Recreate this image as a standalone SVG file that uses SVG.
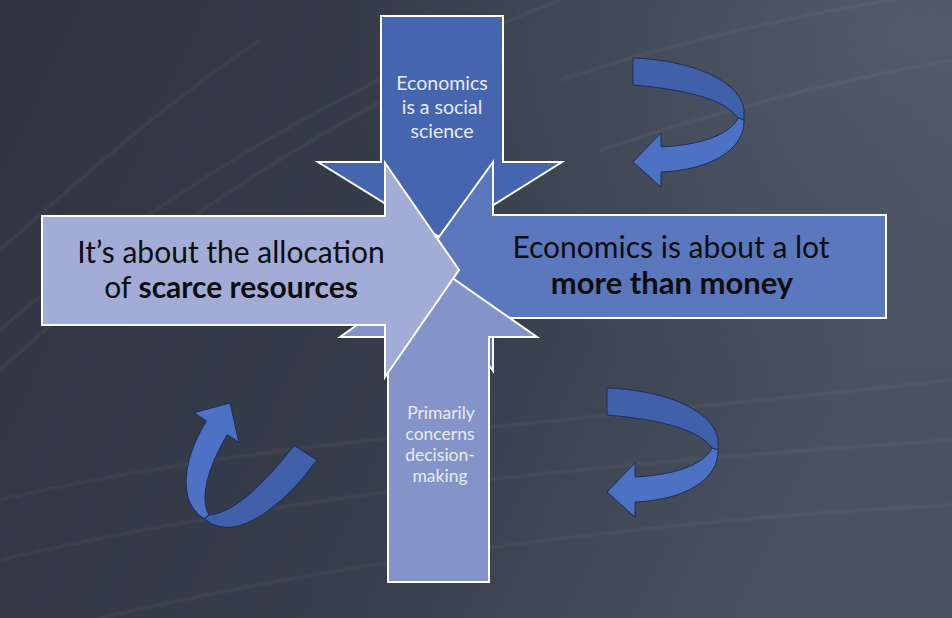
<svg xmlns="http://www.w3.org/2000/svg" width="952" height="618" viewBox="0 0 952 618">
<defs>
<linearGradient id="bg" x1="0" y1="0" x2="1" y2="0.3">
<stop offset="0" stop-color="#2f3541"/>
<stop offset="0.6" stop-color="#373e4b"/>
<stop offset="1" stop-color="#4a515f"/>
</linearGradient>
<radialGradient id="glow" cx="0.95" cy="0.05" r="0.6">
<stop offset="0" stop-color="#566070" stop-opacity="0.7"/>
<stop offset="1" stop-color="#566070" stop-opacity="0"/>
</radialGradient>
<filter id="soft"><feGaussianBlur stdDeviation="1.2"/></filter>
<g id="curl">
<path class="back" d="M633,58 C690,60 740,80 744,110 L744,120 L738,118 C725,100 690,90 633,85 Z"/>
<path class="front" d="M738,118 C730,135 700,145 661,147 L661,133 L633,162 L661,187 L661,172 C710,170 745,150 744,120 Z"/>
</g>
</defs>
<style>
.arrow{stroke:#ffffff;stroke-width:2;stroke-linejoin:miter}
.back{fill:#4160aa;stroke:#1e2d5a;stroke-width:1}
.front{fill:#4d72c4;stroke:#1e2d5a;stroke-width:1}
.wt{font-family:Lato,"Open Sans",sans-serif;fill:#e8ebf3;text-anchor:middle}
.bk{font-family:Lato,"Open Sans",sans-serif;fill:#0d0d0d;text-anchor:middle}
.streak{fill:none;stroke:#ffffff;stroke-opacity:0.07;stroke-width:2}
</style>
<rect width="952" height="618" fill="url(#bg)"/>
<rect width="952" height="618" fill="url(#glow)"/>
<g filter="url(#soft)">
<path class="streak" d="M0,330 C150,200 330,90 560,0"/>
<path class="streak" d="M0,370 C120,260 250,170 420,80"/>
<path class="streak" d="M0,250 C90,170 170,100 260,40"/>
<path class="streak" d="M560,80 C680,40 820,10 952,-10"/>
<path class="streak" d="M600,150 C720,110 840,80 952,60"/>
<path class="streak" d="M0,500 C250,440 600,420 952,380"/>
<path class="streak" d="M0,560 C300,490 650,460 952,440"/>
<path class="streak" d="M100,618 C350,560 650,520 952,505"/>
</g>
<g id="arrow-top">
<path class="arrow" fill="#4566ae" d="M381,16 H503 V162 H562 L441,238 L318,162 H381 Z"/>
<text class="wt" font-size="19.5"><tspan x="442" y="90">Economics</tspan><tspan x="442" y="114">is a social</tspan><tspan x="442" y="138">science</tspan></text>
</g>
<g id="arrow-right">
<path class="arrow" fill="#5b77bd" d="M886,215 V318 H493 V371 L418,266 L493,162 V215 Z"/>
<text class="bk" font-size="30"><tspan x="671" y="258">Economics is about a lot</tspan><tspan x="672" y="294" font-weight="bold" font-size="31">more than money</tspan></text>
</g>
<g id="arrow-bottom">
<path class="arrow" fill="#8494c8" d="M388,582 V337 H340 L438,268 L537,337 H489 V582 Z"/>
<text class="wt" font-size="17.5"><tspan x="441" y="419">Primarily</tspan><tspan x="440" y="440">concerns</tspan><tspan x="440" y="461">decision-</tspan><tspan x="440" y="482">making</tspan></text>
</g>
<g id="arrow-left">
<path class="arrow" fill="#a2acd6" d="M42,216 H385 V163 L459,270 L385,377 V325 H42 Z"/>
<text class="bk" font-size="30"><tspan x="231" y="263">It’s about the allocation</tspan><tspan x="231" y="298">of <tspan font-weight="bold">scarce resources</tspan></tspan></text>
</g>
<g id="connectors">
<use href="#curl"/>
<use href="#curl" transform="translate(-26,330)"/>
<use href="#curl" transform="translate(230,403) rotate(123.3) translate(-633,-162)"/>
</g>
</svg>
